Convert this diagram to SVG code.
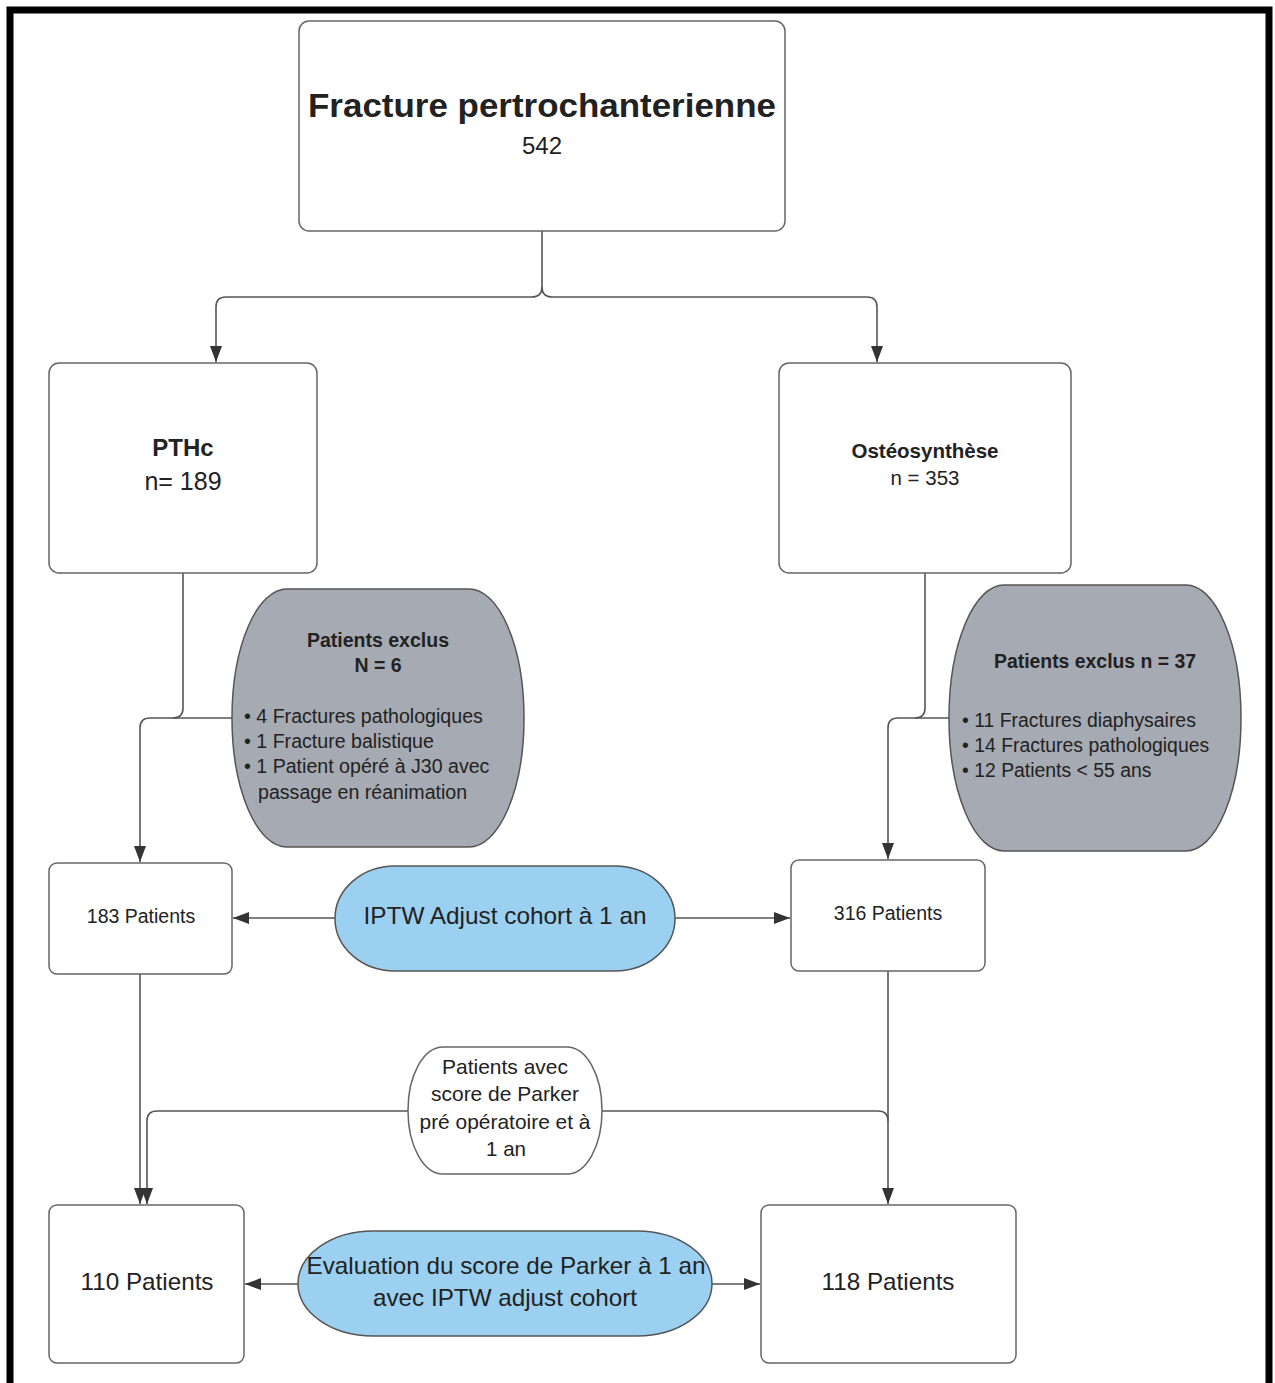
<svg xmlns="http://www.w3.org/2000/svg" width="1275" height="1383" viewBox="0 0 1275 1383">
<defs>
<style>
.box{fill:#fff;stroke:#666;stroke-width:1.5}
.gray{fill:#a6aab2;stroke:#555;stroke-width:1.5}
.blue{fill:#9bd0f0;stroke:#555;stroke-width:1.5}
.c{fill:none;stroke:#555;stroke-width:1.6}
text{font-family:"Liberation Sans",Arial,sans-serif;fill:#222}
.b{font-weight:bold}
.m{text-anchor:middle}
</style>
<marker id="ah" viewBox="0 0 16 12" refX="16" refY="6" markerWidth="16" markerHeight="12" markerUnits="userSpaceOnUse" orient="auto">
<path d="M0,0 L16,6 L0,12 z" fill="#333"/>
</marker>
</defs>
<rect x="0" y="0" width="1275" height="1383" fill="#fff"/>
<path d="M10,1390 V10 H1269 V1390" fill="none" stroke="#000" stroke-width="7"/>

<g id="connectors">
<path class="c" d="M542,231 V287 q0,10 -10,10 H226 q-10,0 -10,10 V362" marker-end="url(#ah)"/>
<path class="c" d="M542,287 q0,10 10,10 H867 q10,0 10,10 V362" marker-end="url(#ah)"/>
<path class="c" d="M183,573 V708 q0,10 -10,10 H150 q-10,0 -10,10 V862" marker-end="url(#ah)"/>
<path class="c" d="M232,718 H173"/>
<path class="c" d="M925,573 V708 q0,10 -10,10 H898 q-10,0 -10,10 V859" marker-end="url(#ah)"/>
<path class="c" d="M949,718 H915"/>
<path class="c" d="M335,918 H233" marker-end="url(#ah)"/>
<path class="c" d="M675,918 H790" marker-end="url(#ah)"/>
<path class="c" d="M140,974 V1204" marker-end="url(#ah)"/>
<path class="c" d="M408,1111 H157 q-10,0 -10,10 V1204" marker-end="url(#ah)"/>
<path class="c" d="M888,971 V1204" marker-end="url(#ah)"/>
<path class="c" d="M602,1111 H878 q10,0 10,10"/>
<path class="c" d="M298,1284 H245" marker-end="url(#ah)"/>
<path class="c" d="M712,1284 H760" marker-end="url(#ah)"/>
</g>

<g id="n-fracture">
<rect class="box" x="299" y="21" width="486" height="210" rx="10"/>
<text class="b m" x="542" y="117" font-size="34" textLength="468" lengthAdjust="spacingAndGlyphs" fill="#111">Fracture pertrochanterienne</text>
<text class="m" x="542" y="154" font-size="24">542</text>
</g>

<g id="n-pthc">
<rect class="box" x="49" y="363" width="268" height="210" rx="10"/>
<text class="b m" x="183" y="456" font-size="24" fill="#111">PTHc</text>
<text class="m" x="183" y="490" font-size="25">n= 189</text>
</g>

<g id="n-osteo">
<rect class="box" x="779" y="363" width="292" height="210" rx="10"/>
<text class="b m" x="925" y="458" font-size="20.5" fill="#333">Ostéosynthèse</text>
<text class="m" x="925" y="485" font-size="20.5" fill="#444">n = 353</text>
</g>

<g id="n-excl-left">
<rect class="gray" x="232" y="589" width="292" height="258" rx="55" ry="129"/>
<text class="b m" x="378" y="647" font-size="19.5" fill="#111">Patients exclus</text>
<text class="b m" x="378" y="672" font-size="19.5" fill="#111">N = 6</text>
<text x="244" y="723" font-size="19.6">• 4 Fractures pathologiques</text>
<text x="244" y="748" font-size="19.6">• 1 Fracture balistique</text>
<text x="244" y="773" font-size="19.6">• 1 Patient opéré à J30 avec</text>
<text x="258" y="799" font-size="19.6">passage en réanimation</text>
</g>

<g id="n-excl-right">
<rect class="gray" x="949" y="585" width="292" height="266" rx="55" ry="133"/>
<text class="b m" x="1095" y="668" font-size="19.4" fill="#111">Patients exclus n = 37</text>
<text x="962" y="727" font-size="19.4">• 11 Fractures diaphysaires</text>
<text x="962" y="752" font-size="19.4">• 14 Fractures pathologiques</text>
<text x="962" y="777" font-size="19.4">• 12 Patients &lt; 55 ans</text>
</g>

<g id="n-183">
<rect class="box" x="49" y="863" width="183" height="111" rx="8"/>
<text class="m" x="141" y="923" font-size="19.5" fill="#444">183 Patients</text>
</g>

<g id="n-iptw">
<rect class="blue" x="335" y="866" width="340" height="105" rx="60" ry="52.5"/>
<text class="m" x="505" y="924" font-size="24" textLength="283" lengthAdjust="spacingAndGlyphs">IPTW Adjust cohort à 1 an</text>
</g>

<g id="n-316">
<rect class="box" x="791" y="860" width="194" height="111" rx="8"/>
<text class="m" x="888" y="920" font-size="19.5" fill="#444">316 Patients</text>
</g>

<g id="n-parker">
<rect class="box" x="408" y="1047" width="194" height="127" rx="35" ry="63"/>
<text class="m" x="505" y="1074" font-size="21" textLength="126" lengthAdjust="spacingAndGlyphs">Patients avec</text>
<text class="m" x="505" y="1101" font-size="21" textLength="148" lengthAdjust="spacingAndGlyphs">score de Parker</text>
<text class="m" x="505" y="1129" font-size="21" textLength="171" lengthAdjust="spacingAndGlyphs">pré opératoire et à</text>
<text class="m" x="506" y="1156" font-size="21" textLength="40" lengthAdjust="spacingAndGlyphs">1 an</text>
</g>

<g id="n-110">
<rect class="box" x="49" y="1205" width="195" height="158" rx="8"/>
<text class="m" x="147" y="1290" font-size="24" fill="#444" textLength="133" lengthAdjust="spacingAndGlyphs">110 Patients</text>
</g>

<g id="n-eval">
<rect class="blue" x="298" y="1231" width="414" height="105" rx="75" ry="52.5"/>
<text class="m" x="506" y="1274" font-size="24" textLength="399" lengthAdjust="spacingAndGlyphs">Evaluation du score de Parker à 1 an</text>
<text class="m" x="505" y="1306" font-size="24" textLength="264" lengthAdjust="spacingAndGlyphs">avec IPTW adjust cohort</text>
</g>

<g id="n-118">
<rect class="box" x="761" y="1205" width="255" height="158" rx="8"/>
<text class="m" x="888" y="1290" font-size="24" fill="#444" textLength="133" lengthAdjust="spacingAndGlyphs">118 Patients</text>
</g>
</svg>
